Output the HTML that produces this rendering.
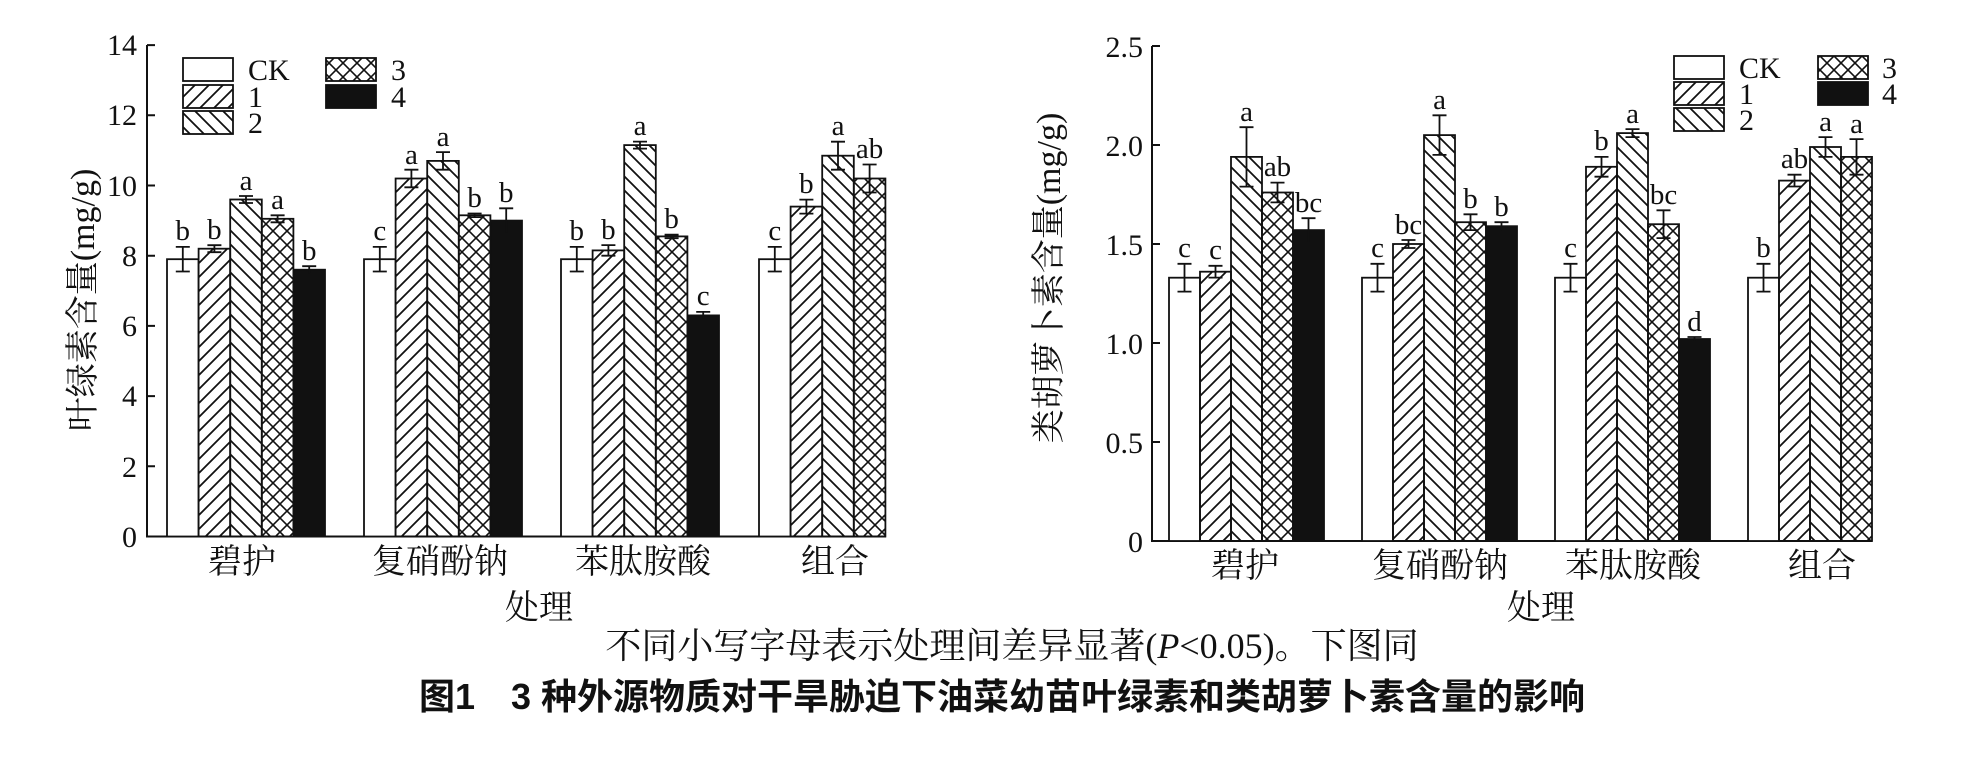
<!DOCTYPE html>
<html><head><meta charset="utf-8"><style>
body{margin:0;background:#fff}
svg{display:block}
.t{font-family:"Liberation Serif","Noto Serif CJK SC",serif;font-size:30px;fill:#111}
.cap{font-family:"Liberation Serif","Noto Serif CJK SC",serif;font-size:36px;fill:#111}
.c{font-family:"Liberation Serif","Noto Serif CJK SC",serif;font-size:34px;fill:#111}
.l{font-family:"Liberation Serif",serif;font-size:29px;fill:#111;text-anchor:middle}
.b{font-family:"Liberation Sans","Noto Sans CJK SC",sans-serif;font-size:36px;font-weight:bold;fill:#111}
</style></head><body>
<svg width="1969" height="758" viewBox="0 0 1969 758" xmlns="http://www.w3.org/2000/svg">
<defs>
<pattern id="p1" patternUnits="userSpaceOnUse" width="14" height="14"><path d="M-2,16 L16,-2 M-9,9 L9,-9 M5,23 L23,5" stroke="#111" stroke-width="1.8"/></pattern>
<pattern id="p2" patternUnits="userSpaceOnUse" width="14" height="14"><path d="M-2,-2 L16,16 M-9,5 L9,23 M5,-9 L23,9" stroke="#111" stroke-width="1.8"/></pattern>
<pattern id="p3" patternUnits="userSpaceOnUse" width="14" height="14"><path d="M-2,16 L16,-2 M-9,9 L9,-9 M5,23 L23,5 M-2,-2 L16,16 M-9,5 L9,23 M5,-9 L23,9" stroke="#111" stroke-width="1.6"/></pattern>
</defs>
<g stroke="#111" stroke-width="2">
<path d="M147,45 V536.5 H886" fill="none"/>
<path d="M147,536.5h8M147,466.3h8M147,396.1h8M147,325.9h8M147,255.7h8M147,185.5h8M147,115.3h8M147,45.1h8"/>
<path d="M1152,46 V541 H1872" fill="none"/>
<path d="M1152,541h8M1152,442h8M1152,343h8M1152,244h8M1152,145h8M1152,46h8"/>
</g>
<g class="t" text-anchor="end">
<text x="137" y="547">0</text><text x="137" y="477">2</text><text x="137" y="406">4</text><text x="137" y="336">6</text><text x="137" y="266">8</text><text x="137" y="196">10</text><text x="137" y="125">12</text><text x="137" y="55">14</text>
<text x="1143" y="552">0</text><text x="1143" y="453">0.5</text><text x="1143" y="354">1.0</text><text x="1143" y="255">1.5</text><text x="1143" y="156">2.0</text><text x="1143" y="57">2.5</text>
</g>
<g stroke="#111" stroke-width="1.8">
<rect x="167" y="259.2" width="31.6" height="277.3" fill="#fff"/>
<rect x="198.6" y="248.7" width="31.6" height="287.8" fill="url(#p1)"/>
<rect x="230.2" y="199.5" width="31.6" height="337" fill="url(#p2)"/>
<rect x="261.8" y="218.8" width="31.6" height="317.7" fill="url(#p3)"/>
<rect x="293.4" y="269.7" width="31.6" height="266.8" fill="#111"/>
<rect x="364" y="259.2" width="31.6" height="277.3" fill="#fff"/>
<rect x="395.6" y="178.5" width="31.6" height="358" fill="url(#p1)"/>
<rect x="427.2" y="160.9" width="31.6" height="375.6" fill="url(#p2)"/>
<rect x="458.8" y="215.3" width="31.6" height="321.2" fill="url(#p3)"/>
<rect x="490.4" y="220.6" width="31.6" height="315.9" fill="#111"/>
<rect x="561" y="259.2" width="31.6" height="277.3" fill="#fff"/>
<rect x="592.6" y="250.4" width="31.6" height="286.1" fill="url(#p1)"/>
<rect x="624.2" y="145.1" width="31.6" height="391.4" fill="url(#p2)"/>
<rect x="655.8" y="236.4" width="31.6" height="300.1" fill="url(#p3)"/>
<rect x="687.4" y="315.4" width="31.6" height="221.1" fill="#111"/>
<rect x="759" y="259.2" width="31.6" height="277.3" fill="#fff"/>
<rect x="790.6" y="206.6" width="31.6" height="329.9" fill="url(#p1)"/>
<rect x="822.2" y="155.7" width="31.6" height="380.8" fill="url(#p2)"/>
<rect x="853.8" y="178.5" width="31.6" height="358" fill="url(#p3)"/>
<rect x="1169" y="277.7" width="31" height="263.3" fill="#fff"/>
<rect x="1200" y="271.7" width="31" height="269.3" fill="url(#p1)"/>
<rect x="1231" y="156.9" width="31" height="384.1" fill="url(#p2)"/>
<rect x="1262" y="192.5" width="31" height="348.5" fill="url(#p3)"/>
<rect x="1293" y="230.1" width="31" height="310.9" fill="#111"/>
<rect x="1362" y="277.7" width="31" height="263.3" fill="#fff"/>
<rect x="1393" y="244" width="31" height="297" fill="url(#p1)"/>
<rect x="1424" y="135.1" width="31" height="405.9" fill="url(#p2)"/>
<rect x="1455" y="222.2" width="31" height="318.8" fill="url(#p3)"/>
<rect x="1486" y="226.2" width="31" height="314.8" fill="#111"/>
<rect x="1555" y="277.7" width="31" height="263.3" fill="#fff"/>
<rect x="1586" y="166.8" width="31" height="374.2" fill="url(#p1)"/>
<rect x="1617" y="133.1" width="31" height="407.9" fill="url(#p2)"/>
<rect x="1648" y="224.2" width="31" height="316.8" fill="url(#p3)"/>
<rect x="1679" y="339" width="31" height="202" fill="#111"/>
<rect x="1748" y="277.7" width="31" height="263.3" fill="#fff"/>
<rect x="1779" y="180.6" width="31" height="360.4" fill="url(#p1)"/>
<rect x="1810" y="147" width="31" height="394" fill="url(#p2)"/>
<rect x="1841" y="156.9" width="31" height="384.1" fill="url(#p3)"/>
</g>
<g stroke="#111" stroke-width="1.8" fill="none">
<path d="M182.8,246.9V271.5M175.8,246.9h14M175.8,271.5h14"/>
<path d="M214.4,245.2V252.2M207.4,245.2h14M207.4,252.2h14"/>
<path d="M246,196V203M239,196h14M239,203h14"/>
<path d="M277.6,215.3V222.3M270.6,215.3h14M270.6,222.3h14"/>
<path d="M309.2,266.2V273.2M302.2,266.2h14" />
<path d="M379.8,246.9V271.5M372.8,246.9h14M372.8,271.5h14"/>
<path d="M411.4,169.7V187.3M404.4,169.7h14M404.4,187.3h14"/>
<path d="M443,152.1V169.7M436,152.1h14M436,169.7h14"/>
<path d="M474.6,213.5V217.1M467.6,213.5h14M467.6,217.1h14"/>
<path d="M506.2,208.3V232.9M499.2,208.3h14"/>
<path d="M576.8,246.9V271.5M569.8,246.9h14M569.8,271.5h14"/>
<path d="M608.4,245.1V255.7M601.4,245.1h14M601.4,255.7h14"/>
<path d="M640,141.6V148.6M633,141.6h14M633,148.6h14"/>
<path d="M671.6,234.6V238.2M664.6,234.6h14M664.6,238.2h14"/>
<path d="M703.2,311.9V318.9M696.2,311.9h14"/>
<path d="M774.8,246.9V271.5M767.8,246.9h14M767.8,271.5h14"/>
<path d="M806.4,199.6V213.6M799.4,199.6h14M799.4,213.6h14"/>
<path d="M838,141.7V169.7M831,141.7h14M831,169.7h14"/>
<path d="M869.6,164.5V192.5M862.6,164.5h14M862.6,192.5h14"/>
<path d="M1184.5,263.8V291.6M1177.5,263.8h14M1177.5,291.6h14"/>
<path d="M1215.5,265.8V277.6M1208.5,265.8h14M1208.5,277.6h14"/>
<path d="M1246.5,127.2V186.6M1239.5,127.2h14M1239.5,186.6h14"/>
<path d="M1277.5,182.6V202.4M1270.5,182.6h14M1270.5,202.4h14"/>
<path d="M1308.5,218.2V242M1301.5,218.2h14"/>
<path d="M1377.5,263.8V291.6M1370.5,263.8h14M1370.5,291.6h14"/>
<path d="M1408.5,240V248M1401.5,240h14M1401.5,248h14"/>
<path d="M1439.5,115.3V154.9M1432.5,115.3h14M1432.5,154.9h14"/>
<path d="M1470.5,214.3V230.1M1463.5,214.3h14M1463.5,230.1h14"/>
<path d="M1501.5,222.2V230.2M1494.5,222.2h14"/>
<path d="M1570.5,263.8V291.6M1563.5,263.8h14M1563.5,291.6h14"/>
<path d="M1601.5,156.9V176.7M1594.5,156.9h14M1594.5,176.7h14"/>
<path d="M1632.5,129.1V137.1M1625.5,129.1h14M1625.5,137.1h14"/>
<path d="M1663.5,210.3V238.1M1656.5,210.3h14M1656.5,238.1h14"/>
<path d="M1694.5,337V341M1687.5,337h14"/>
<path d="M1763.5,263.8V291.6M1756.5,263.8h14M1756.5,291.6h14"/>
<path d="M1794.5,174.7V186.5M1787.5,174.7h14M1787.5,186.5h14"/>
<path d="M1825.5,137.1V156.9M1818.5,137.1h14M1818.5,156.9h14"/>
<path d="M1856.5,139.1V174.7M1849.5,139.1h14M1849.5,174.7h14"/>
</g>
<g class="l">
<text x="182.8" y="240">b</text><text x="214.4" y="239">b</text><text x="246" y="190">a</text><text x="277.6" y="209">a</text><text x="309.2" y="260">b</text>
<text x="379.8" y="240">c</text><text x="411.4" y="164">a</text><text x="443" y="146">a</text><text x="474.6" y="207">b</text><text x="506.2" y="202">b</text>
<text x="576.8" y="240">b</text><text x="608.4" y="239">b</text><text x="640" y="135">a</text><text x="671.6" y="228">b</text><text x="703.2" y="305">c</text>
<text x="774.8" y="240">c</text><text x="806.4" y="193">b</text><text x="838" y="135">a</text><text x="869.6" y="158">ab</text>
<text x="1184.5" y="257">c</text><text x="1215.5" y="259">c</text><text x="1246.5" y="121">a</text><text x="1277.5" y="176">ab</text><text x="1308.5" y="212">bc</text>
<text x="1377.5" y="257">c</text><text x="1408.5" y="234">bc</text><text x="1439.5" y="109">a</text><text x="1470.5" y="208">b</text><text x="1501.5" y="216">b</text>
<text x="1570.5" y="257">c</text><text x="1601.5" y="150">b</text><text x="1632.5" y="123">a</text><text x="1663.5" y="204">bc</text><text x="1694.5" y="331">d</text>
<text x="1763.5" y="257">b</text><text x="1794.5" y="168">ab</text><text x="1825.5" y="131">a</text><text x="1856.5" y="133">a</text>
</g>
<g stroke="#111" stroke-width="1.8">
<rect x="183" y="58" width="50" height="23" fill="#fff"/>
<rect x="183" y="85" width="50" height="23" fill="url(#p1)"/>
<rect x="183" y="111" width="50" height="23" fill="url(#p2)"/>
<rect x="326" y="58" width="50" height="23" fill="url(#p3)"/>
<rect x="326" y="85" width="50" height="23" fill="#111"/>
<rect x="1674" y="56" width="50" height="23" fill="#fff"/>
<rect x="1674" y="82" width="50" height="23" fill="url(#p1)"/>
<rect x="1674" y="108" width="50" height="23" fill="url(#p2)"/>
<rect x="1818" y="56" width="50" height="23" fill="url(#p3)"/>
<rect x="1818" y="82" width="50" height="23" fill="#111"/>
</g>
<g class="t">
<text x="248" y="80">CK</text><text x="248" y="107">1</text><text x="248" y="133">2</text>
<text x="391" y="80">3</text><text x="391" y="107">4</text>
<text x="1739" y="78">CK</text><text x="1739" y="104">1</text><text x="1739" y="130">2</text>
<text x="1882" y="78">3</text><text x="1882" y="104">4</text>
</g>
<g class="c" text-anchor="middle">
<text x="242" y="573">碧护</text><text x="440" y="573">复硝酚钠</text><text x="643" y="573">苯肽胺酸</text><text x="835" y="573">组合</text>
<text x="1245" y="577">碧护</text><text x="1440" y="577">复硝酚钠</text><text x="1633" y="577">苯肽胺酸</text><text x="1822" y="577">组合</text>
<text x="539" y="619">处理</text><text x="1541" y="619">处理</text>
</g>
<text class="c" transform="translate(94,300) rotate(-90)" text-anchor="middle">叶绿素含量(mg/g)</text>
<text class="c" transform="translate(1060,278) rotate(-90)" text-anchor="middle">类胡萝卜素含量(mg/g)</text>
<text class="cap" x="1012" y="658" text-anchor="middle">不同小写字母表示处理间差异显著(<tspan font-style="italic">P</tspan>&lt;0.05)。下图同</text>
<text class="b" x="1002" y="709" text-anchor="middle">图1　3 种外源物质对干旱胁迫下油菜幼苗叶绿素和类胡萝卜素含量的影响</text>
</svg>
</body></html>
